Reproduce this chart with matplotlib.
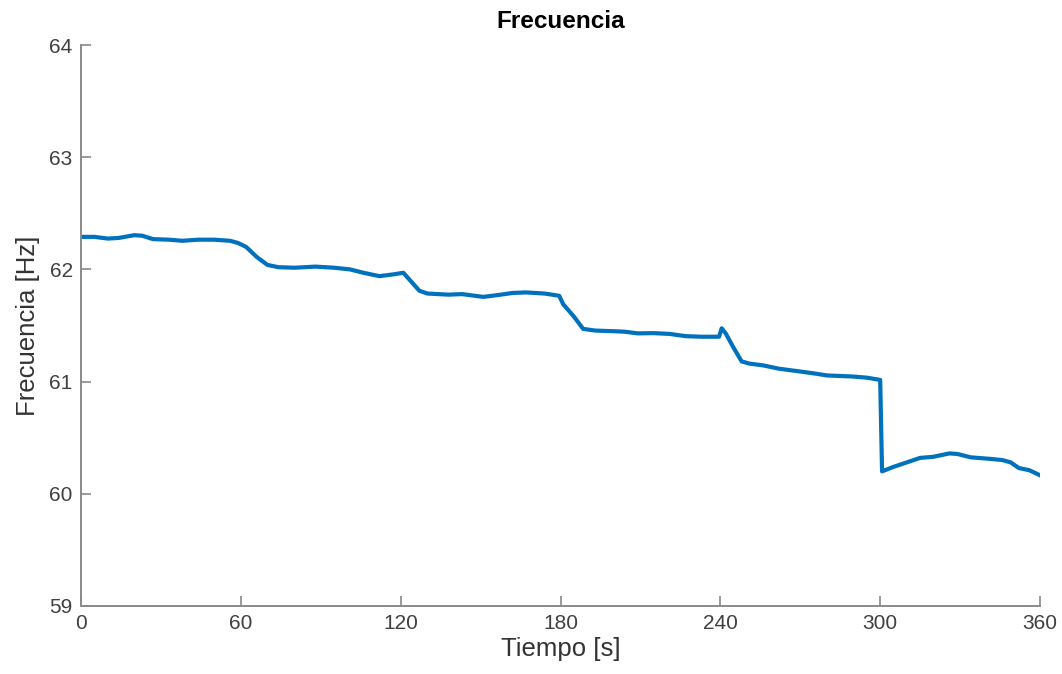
import matplotlib
matplotlib.use('Agg')
import matplotlib.pyplot as plt
import numpy as np

plt.rcParams['font.family'] = ['Liberation Sans', 'DejaVu Sans']

# values (time in s, frequency in Hz)
tiempo = [0, 5, 10, 14, 20, 23, 27, 33, 38, 44, 50, 56, 59, 62, 66, 70, 74, 80, 88, 95,
          101, 106, 112, 117, 121, 124, 127, 130, 138, 143, 151, 156, 162, 167, 174, 179.5,
          181, 185, 188.5, 193, 199, 204, 209, 215, 221, 227, 233, 239.5, 240.5, 242, 245,
          248, 251, 256, 262, 270, 276, 280, 290, 295, 300, 300.7, 305, 310, 315, 320, 326,
          329, 334, 342, 346, 349, 352, 356, 360]
frecuencia = [62.29, 62.29, 62.275, 62.28, 62.305, 62.30, 62.27, 62.265, 62.255, 62.265,
              62.265, 62.255, 62.235, 62.20, 62.11, 62.04, 62.02, 62.015, 62.025, 62.015,
              62.00, 61.97, 61.94, 61.955, 61.97, 61.89, 61.81, 61.785, 61.775, 61.78,
              61.755, 61.77, 61.79, 61.795, 61.785, 61.765, 61.69, 61.58, 61.47, 61.455,
              61.45, 61.445, 61.43, 61.432, 61.425, 61.405, 61.40, 61.40, 61.475, 61.43,
              61.30, 61.18, 61.16, 61.145, 61.115, 61.09, 61.07, 61.055, 61.045, 61.035,
              61.015, 60.20, 60.24, 60.28, 60.32, 60.33, 60.36, 60.355, 60.325, 60.31,
              60.30, 60.28, 60.23, 60.21, 60.165]

xticks = [0, 60, 120, 180, 240, 300, 360]
yticks = [59, 60, 61, 62, 63, 64]

fig = plt.figure(figsize=(10.62, 6.74), dpi=100)
ax = fig.add_axes([0.0763, 0.1009, 0.9030, 0.8323])

ax.plot(tiempo, frecuencia, color='#0072BD', linewidth=3)

ax.set_xlim(0, 360)
ax.set_ylim(59, 64)
ax.set_xticks(xticks)
ax.set_yticks(yticks)

for side in ['top', 'right']:
    ax.spines[side].set_visible(False)
for side in ['left', 'bottom']:
    ax.spines[side].set_color('#8a8a8a')
    ax.spines[side].set_linewidth(1.4)

ax.tick_params(direction='in', length=7, width=1.2, color='#8a8a8a',
               labelcolor='#404040', labelsize=15, pad=6)

ax.set_xlabel('Tiempo [s]', fontsize=18.5, color='#333333', labelpad=3)
ax.set_ylabel('Frecuencia [Hz]', fontsize=18.5, color='#333333', labelpad=7)
ax.set_title('Frecuencia', fontsize=17.5, fontweight='bold', pad=12)

fig.savefig('out.png', dpi=100)
